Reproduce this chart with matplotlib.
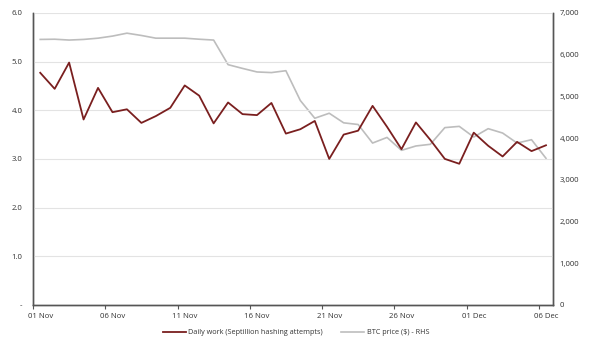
import matplotlib
matplotlib.use("Agg")
import matplotlib.pyplot as plt
from matplotlib.lines import Line2D

plt.rcParams['font.family'] = ['Open Sans', 'DejaVu Sans']

# days 01 Nov .. 06 Dec
dias = ["01 Nov", "02 Nov", "03 Nov", "04 Nov", "05 Nov", "06 Nov", "07 Nov", "08 Nov",
        "09 Nov", "10 Nov", "11 Nov", "12 Nov", "13 Nov", "14 Nov", "15 Nov", "16 Nov",
        "17 Nov", "18 Nov", "19 Nov", "20 Nov", "21 Nov", "22 Nov", "23 Nov", "24 Nov",
        "25 Nov", "26 Nov", "27 Nov", "28 Nov", "29 Nov", "30 Nov", "01 Dec", "02 Dec",
        "03 Dec", "04 Dec", "05 Dec", "06 Dec"]

trabajo = [4.77, 4.44, 4.98, 3.81, 4.46, 3.96, 4.02, 3.74, 3.88, 4.05, 4.51, 4.30,
           3.73, 4.16, 3.92, 3.90, 4.15, 3.52, 3.61, 3.78, 3.00, 3.50, 3.58, 4.09,
           3.66, 3.20, 3.75, 3.39, 3.00, 2.90, 3.54, 3.27, 3.05, 3.35, 3.16, 3.28]

precio_btc = [6365, 6370, 6350, 6365, 6395, 6445, 6515, 6460, 6395, 6395, 6395, 6370,
              6350, 5760, 5670, 5585, 5570, 5615, 4900, 4475, 4595, 4365, 4325, 3880,
              4015, 3705, 3810, 3850, 4250, 4280, 4025, 4225, 4120, 3880, 3960, 3515]

izq_ticks = [0, 1, 2, 3, 4, 5, 6]
izq_labels = ["-", "1.0", "2.0", "3.0", "4.0", "5.0", "6.0"]
der_ticks = [0, 1000, 2000, 3000, 4000, 5000, 6000, 7000]

rojo = "#7a1f1f"
gris = "#bdbdbd"
eje = "#555555"
txt = "#333333"

fig = plt.figure(figsize=(6, 3.5), dpi=100)
ax = fig.add_axes([0.055, 0.129, 0.867, 0.834])
ax2 = ax.twinx()

x = list(range(len(dias)))
ax2.plot(x, precio_btc, color=gris, lw=1.2)
ax.plot(x, trabajo, color=rojo, lw=1.3)
ax.set_zorder(ax2.get_zorder() + 1)
ax.patch.set_visible(False)

ax.set_xlim(-0.5, len(dias) - 0.5)
ax.set_ylim(0, 6)
ax2.set_ylim(0, 7000)

ax.set_yticks(izq_ticks)
ax.set_yticklabels(izq_labels)
ax2.set_yticks(der_ticks)
ax2.set_yticklabels([f"{v:,}" for v in der_ticks])

# tick marks between categories, labels centred on points
ax.set_xticks([i - 0.5 for i in range(0, len(dias), 5)])
ax.set_xticklabels([])
ax.set_xticks(list(range(0, len(dias), 5)), minor=True)
ax.set_xticklabels([dias[i] for i in range(0, len(dias), 5)], minor=True)
ax.tick_params(axis='x', which='major', length=3, color=eje, direction='out')
ax.tick_params(axis='x', which='minor', length=0, pad=6, labelsize=5.6, labelcolor=txt)
ax.tick_params(axis='y', length=0, pad=7.5, labelsize=5.6, labelcolor=txt)
ax2.tick_params(axis='y', length=0, pad=4.5, labelsize=5.6, labelcolor=txt)

ax.grid(axis='y', color="#e3e3e3", lw=0.8)
ax.set_axisbelow(True)

for a in (ax, ax2):
    a.spines['top'].set_visible(False)
    for s in ('left', 'right', 'bottom'):
        a.spines[s].set_color(eje)
        a.spines[s].set_linewidth(1.0)

handles = [Line2D([], [], color=rojo, lw=1.3), Line2D([], [], color=gris, lw=1.2)]
fig.legend(handles, ["Daily work (Septillion hashing attempts)", "BTC price ($) - RHS"],
           loc='center', bbox_to_anchor=(0.493, 0.049), ncol=2, frameon=False,
           fontsize=5.2, handlelength=3.2, columnspacing=2.6, handletextpad=0.3,
           labelcolor=txt)

plt.savefig("out.png", dpi=100)
plt.close()
